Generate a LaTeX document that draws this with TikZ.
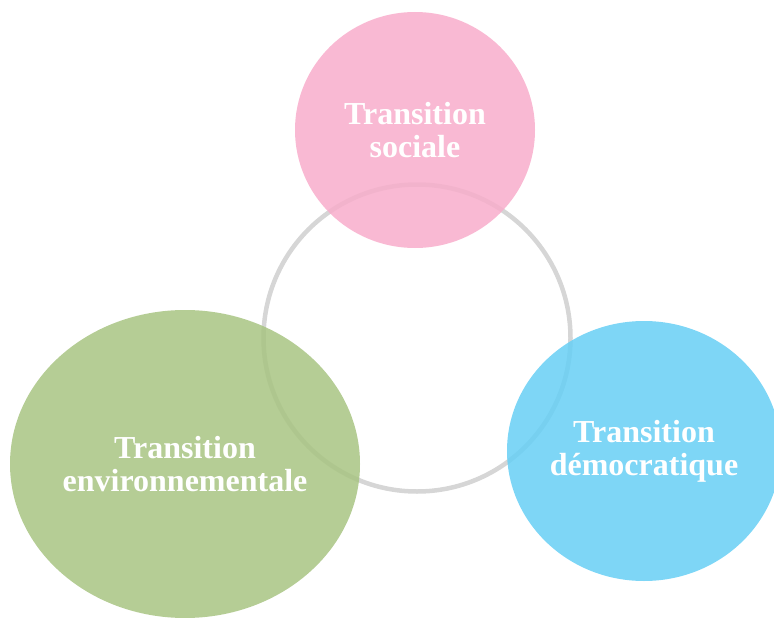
\documentclass[tikz,border=0pt]{standalone}
\usepackage{fontspec}
\setmainfont{Liberation Serif}
\usetikzlibrary{shapes.geometric}
\definecolor{pinkc}{RGB}{248,173,203}
\definecolor{greenc}{RGB}{168,196,130}
\definecolor{bluec}{RGB}{103,207,245}
\definecolor{ringc}{RGB}{214,214,214}
\tikzset{
  blob/.style={ellipse, inner sep=0pt, fill opacity=0.85, text opacity=1,
    text=white, align=center, font=\fontsize{32}{33}\selectfont\bfseries},
}
\begin{document}
\begin{tikzpicture}[x=1pt,y=-1pt]
\useasboundingbox (0,0) rectangle (774,618);
\node[circle, draw=ringc, line width=4.5pt, minimum size=307pt, inner sep=0pt] (ring) at (417,338) {};
\node[blob, fill=pinkc, minimum width=240pt, minimum height=236pt] (soc) at (415,130) {Transition\\sociale};
\node[blob, fill=greenc, minimum width=350pt, minimum height=308pt] (env) at (185,464) {Transition\\environnementale};
\node[blob, fill=bluec, minimum width=274pt, minimum height=260pt] (dem) at (644,451) {Transition\\démocratique};
\end{tikzpicture}
\end{document}
